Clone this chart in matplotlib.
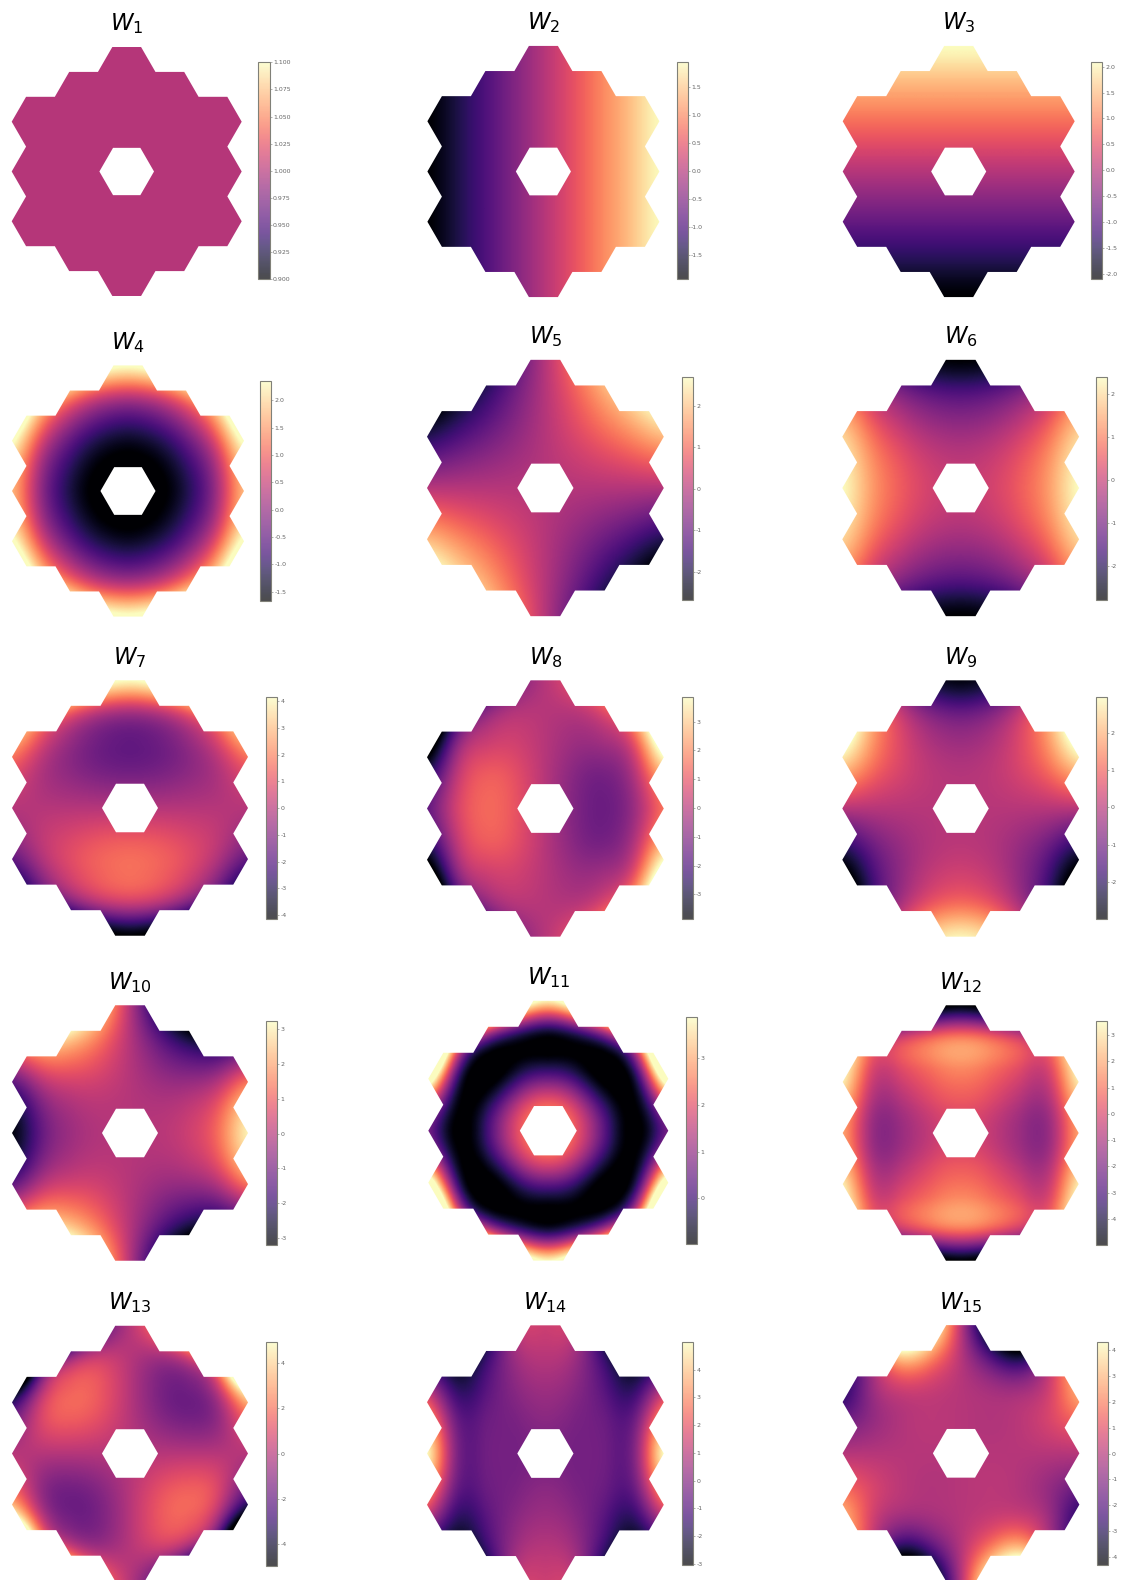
import numpy as np
import matplotlib
matplotlib.use('Agg')
import matplotlib.pyplot as plt
from matplotlib.patches import PathPatch
from matplotlib.path import Path

FIG_W, FIG_H = 1121, 1580

# grid samples, first row is the top of the aperture
X_SAMPLES = [-4, -3, -2, -1, 0, 1, 2, 3, 4]
Y_SAMPLES = [4.33, 3.25, 2.17, 1.08, 0, -1.08, -2.17, -3.25, -4.33]

W1 = [[1.0] * 9] * 9
W2 = [[-1.93, -1.45, -0.97, -0.48, 0, 0.48, 0.97, 1.45, 1.93]] * 9
W3 = [[2.1] * 9, [1.58] * 9, [1.05] * 9, [0.52] * 9, [0] * 9,
      [-0.52] * 9, [-1.05] * 9, [-1.58] * 9, [-2.1] * 9]
W4 = [[6.38, 4.65, 3.42, 2.68, 2.43, 2.68, 3.42, 4.65, 6.38],
      [4.36, 2.63, 1.40, 0.66, 0.41, 0.66, 1.40, 2.63, 4.36],
      [2.92, 1.19, -0.05, -0.75, -1.0, -0.75, -0.05, 1.19, 2.92],
      [2.04, 0.31, -0.85, -1.55, -1.8, -1.55, -0.85, 0.31, 2.04],
      [1.75, 0.02, -1.15, -1.85, -2.1, -1.85, -1.15, 0.02, 1.75],
      [2.04, 0.31, -0.85, -1.55, -1.8, -1.55, -0.85, 0.31, 2.04],
      [2.92, 1.19, -0.05, -0.75, -1.0, -0.75, -0.05, 1.19, 2.92],
      [4.36, 2.63, 1.40, 0.66, 0.41, 0.66, 1.40, 2.63, 4.36],
      [6.38, 4.65, 3.42, 2.68, 2.43, 2.68, 3.42, 4.65, 6.38]]
W5 = [[-4.76, -3.57, -2.38, -1.19, 0, 1.19, 2.38, 3.57, 4.76],
      [-3.57, -2.68, -1.79, -0.89, 0, 0.89, 1.79, 2.68, 3.57],
      [-2.39, -1.79, -1.19, -0.60, 0, 0.60, 1.19, 1.79, 2.39],
      [-1.19, -0.89, -0.59, -0.30, 0, 0.30, 0.59, 0.89, 1.19],
      [0, 0, 0, 0, 0, 0, 0, 0, 0],
      [1.19, 0.89, 0.59, 0.30, 0, -0.30, -0.59, -0.89, -1.19],
      [2.39, 1.79, 1.19, 0.60, 0, -0.60, -1.19, -1.79, -2.39],
      [3.57, 2.68, 1.79, 0.89, 0, -0.89, -1.79, -2.68, -3.57],
      [4.76, 3.57, 2.38, 1.19, 0, -1.19, -2.38, -3.57, -4.76]]
W6 = [[-0.41, -1.46, -2.21, -2.66, -2.81, -2.66, -2.21, -1.46, -0.41],
      [0.82, -0.23, -0.98, -1.43, -1.58, -1.43, -0.98, -0.23, 0.82],
      [1.69, 0.64, -0.11, -0.56, -0.71, -0.56, -0.11, 0.64, 1.69],
      [2.22, 1.17, 0.42, -0.03, -0.18, -0.03, 0.42, 1.17, 2.22],
      [2.4, 1.35, 0.6, 0.15, 0, 0.15, 0.6, 1.35, 2.4],
      [2.22, 1.17, 0.42, -0.03, -0.18, -0.03, 0.42, 1.17, 2.22],
      [1.69, 0.64, -0.11, -0.56, -0.71, -0.56, -0.11, 0.64, 1.69],
      [0.82, -0.23, -0.98, -1.43, -1.58, -1.43, -0.98, -0.23, 0.82],
      [-0.41, -1.46, -2.21, -2.66, -2.81, -2.66, -2.21, -1.46, -0.41]]
W7 = [[13.1, 9.2, 6.4, 4.8, 4.2, 4.8, 6.4, 9.2, 13.1],
      [6.4, 3.48, 1.4, 0.16, -0.26, 0.16, 1.4, 3.48, 6.4],
      [2.65, 0.69, -0.69, -1.45, -1.70, -1.45, -0.69, 0.69, 2.65],
      [0.83, -0.14, -0.75, -1.12, -1.25, -1.12, -0.75, -0.14, 0.83],
      [0, 0, 0, 0, 0, 0, 0, 0, 0],
      [-0.83, 0.14, 0.75, 1.12, 1.25, 1.12, 0.75, 0.14, -0.83],
      [-2.65, -0.69, 0.69, 1.40, 1.65, 1.40, 0.69, -0.69, -2.65],
      [-6.4, -3.48, -1.4, -0.16, 0.26, -0.16, -1.4, -3.48, -6.4],
      [-13.1, -9.2, -6.4, -4.8, -4.2, -4.8, -6.4, -9.2, -13.1]]
W8 = [[-12.1, -6.4, -3.0, -1.10, 0, 1.10, 3.0, 6.4, 12.1],
      [-7.9, -3.2, -0.86, -0.05, 0, 0.05, 0.86, 3.2, 7.9],
      [-4.9, -0.96, 0.40, 0.50, 0, -0.50, -0.40, 0.96, 4.9],
      [-2.6, 0.10, 1.20, 0.90, 0, -0.90, -1.20, -0.10, 2.6],
      [-1.6, 0.50, 1.40, 1.00, 0, -1.00, -1.40, -0.50, 1.6],
      [-2.6, 0.10, 1.20, 0.90, 0, -0.90, -1.20, -0.10, 2.6],
      [-4.9, -0.96, 0.40, 0.50, 0, -0.50, -0.40, 0.96, 4.9],
      [-7.9, -3.2, -0.86, -0.05, 0, 0.05, 0.86, 3.2, 7.9],
      [-12.1, -6.4, -3.0, -1.10, 0, 1.10, 3.0, 6.4, 12.1]]
W9 = [[4.43, 1.25, -1.02, -2.39, -2.84, -2.39, -1.02, 1.25, 4.43],
      [4.26, 1.87, 0.16, -0.86, -1.2, -0.86, 0.16, 1.87, 4.26],
      [3.29, 1.69, 0.55, -0.13, -0.36, -0.13, 0.55, 1.69, 3.29],
      [1.77, 0.98, 0.41, 0.07, -0.04, 0.07, 0.41, 0.98, 1.77],
      [0, 0, 0, 0, 0, 0, 0, 0, 0],
      [-1.77, -0.98, -0.41, -0.07, 0.04, -0.07, -0.41, -0.98, -1.77],
      [-3.29, -1.69, -0.55, 0.13, 0.36, 0.13, -0.55, -1.69, -3.29],
      [-4.26, -1.87, -0.16, 0.86, 1.2, 0.86, -0.16, -1.87, -4.26],
      [-4.43, -1.25, 1.02, 2.39, 2.84, 2.39, 1.02, -1.25, -4.43]]
W10 = [[7.7, 6.8, 5.0, 2.65, 0, -2.65, -5.0, -6.8, -7.7],
       [3.0, 3.26, 2.66, 1.47, 0, -1.47, -2.66, -3.26, -3.0],
       [-0.36, 0.74, 0.97, 0.63, 0, -0.63, -0.97, -0.74, 0.36],
       [-2.4, -0.79, -0.05, 0.12, 0, -0.12, 0.05, 0.79, 2.4],
       [-3.07, -1.3, -0.38, -0.05, 0, 0.05, 0.38, 1.3, 3.07],
       [-2.4, -0.79, -0.05, 0.12, 0, -0.12, 0.05, 0.79, 2.4],
       [-0.36, 0.74, 0.97, 0.63, 0, -0.63, -0.97, -0.74, 0.36],
       [3.0, 3.26, 2.66, 1.47, 0, -1.47, -2.66, -3.26, -3.0],
       [7.7, 6.8, 5.0, 2.65, 0, -2.65, -5.0, -6.8, -7.7]]
W11 = [[12, 12, 8, 5.16, 3.85, 5.16, 8, 12, 12],
       [10, 4.89, 1.5, 0.0, -0.6, 0.0, 1.5, 4.89, 10],
       [6.5, 0.8, -1.3, -0.75, -0.4, -0.75, -1.3, 0.8, 6.5],
       [2.6, -0.7, -0.6, 1.1, 1.9, 1.1, -0.6, -0.7, 2.6],
       [0.7, -1.1, 0.1, 2.0, 2.7, 2.0, 0.1, -1.1, 0.7],
       [2.6, -0.7, -0.6, 1.1, 1.9, 1.1, -0.6, -0.7, 2.6],
       [6.5, 0.8, -1.3, -0.75, -0.4, -0.75, -1.3, 0.8, 6.5],
       [10, 4.89, 1.5, 0.0, -0.6, 0.0, 1.5, 4.89, 10],
       [12, 12, 8, 5.16, 3.85, 5.16, 8, 12, 12]]
W12 = [[-2.65, -6.31, -6.21, -5.6, -5.0, -5.6, -6.21, -6.31, -2.65],
       [3.23, -0.43, -0.33, 0.6, 1.1, 0.6, -0.33, -0.43, 3.23],
       [3.71, 0.06, 0.15, 0.95, 1.4, 0.95, 0.15, 0.06, 3.71],
       [2.51, -0.8, -0.8, 0.09, 0.5, 0.09, -0.8, -0.8, 2.51],
       [1.86, -1.3, -1.3, -0.45, 0, -0.45, -1.3, -1.3, 1.86],
       [2.51, -0.8, -0.8, 0.09, 0.5, 0.09, -0.8, -0.8, 2.51],
       [3.71, 0.06, 0.15, 0.95, 1.4, 0.95, 0.15, 0.06, 3.71],
       [3.23, -0.43, -0.33, 0.6, 1.1, 0.6, -0.33, -0.43, 3.23],
       [-2.65, -6.31, -6.21, -5.6, -5.0, -5.6, -6.21, -6.31, -2.65]]
W13 = [[-20, -15, -7.4, -2.56, 0, 2.56, 7.4, 15, 20],
       [-15.4, -5.6, -0.9, 0.4, 0, -0.4, 0.9, 5.6, 15.4],
       [-5.87, -0.42, 1.61, 1.38, 0, -1.38, -1.61, 0.42, 5.87],
       [-1.59, 0.79, 1.47, 1.02, 0, -1.02, -1.47, -0.79, 1.59],
       [0, 0, 0, 0, 0, 0, 0, 0, 0],
       [1.59, -0.79, -1.47, -1.02, 0, 1.02, 1.47, 0.79, -1.59],
       [5.87, 0.42, -1.61, -1.38, 0, 1.38, 1.61, -0.42, -5.87],
       [15.4, 5.6, 0.9, -0.4, 0, 0.4, -0.9, -5.6, -15.4],
       [20, 15, 7.4, 2.56, 0, -2.56, -7.4, -15, -20]]
W14 = [[-4, -6, -3, 1.0, 1.4, 1.0, -3, -6, -4],
       [-2, -3.4, -1.6, 0.5, 1.0, 0.5, -1.6, -3.4, -2],
       [1.0, -1.6, -0.9, 0.1, 0.5, 0.1, -0.9, -1.6, 1.0],
       [3.6, -0.4, -0.5, -0.2, 0.1, -0.2, -0.5, -0.4, 3.6],
       [5.0, 0.0, -0.4, -0.3, -0.2, -0.3, -0.4, 0.0, 5.0],
       [3.6, -0.4, -0.5, -0.2, 0.1, -0.2, -0.5, -0.4, 3.6],
       [1.0, -1.6, -0.9, 0.1, 0.5, 0.1, -0.9, -1.6, 1.0],
       [-2, -3.4, -1.6, 0.5, 1.0, 0.5, -1.6, -3.4, -2],
       [-4, -6, -3, 1.0, 1.4, 1.0, -3, -6, -4]]
W15 = [[0, 6, 8, 5, 0, -5, -8, -6, 0],
       [-2.5, 0.9, 3.4, 2.2, 0, -2.2, -3.4, -0.9, 2.5],
       [-2.9, -0.6, 0.5, 0.4, 0, -0.4, -0.5, 0.6, 2.9],
       [-1.5, -0.7, -0.1, 0.1, 0, -0.1, 0.1, 0.7, 1.5],
       [0, 0, 0, 0, 0, 0, 0, 0, 0],
       [1.5, 0.7, 0.1, -0.1, 0, 0.1, -0.1, -0.7, -1.5],
       [2.9, 0.6, -0.5, -0.4, 0, 0.4, 0.5, -0.6, -2.9],
       [2.5, -0.9, -3.4, -2.2, 0, 2.2, 3.4, 0.9, -2.5],
       [0, -6, -8, -5, 0, 5, 8, 6, 0]]

MODES = [W1, W2, W3, W4, W5, W6, W7, W8, W9, W10, W11, W12, W13, W14, W15]

VMIN = [0.9, -1.93, -2.1, -1.67, -2.68, -2.8, -4.16, -3.87, -3.0, -3.2, -0.98, -5.0, -4.93, -3.04, -4.3]
VMAX = [1.1, 1.95, 2.1, 2.35, 2.7, 2.4, 4.17, 3.87, 2.97, 3.23, 3.88, 3.54, 4.93, 5.0, 4.3]
TICKS = [
    [0.9, 0.925, 0.95, 0.975, 1.0, 1.025, 1.05, 1.075, 1.1],
    [-1.5, -1.0, -0.5, 0.0, 0.5, 1.0, 1.5],
    [-2.0, -1.5, -1.0, -0.5, 0.0, 0.5, 1.0, 1.5, 2.0],
    [-1.5, -1.0, -0.5, 0.0, 0.5, 1.0, 1.5, 2.0],
    [-2, -1, 0, 1, 2],
    [-2, -1, 0, 1, 2],
    [-4, -3, -2, -1, 0, 1, 2, 3, 4],
    [-3, -2, -1, 0, 1, 2, 3],
    [-2, -1, 0, 1, 2],
    [-3, -2, -1, 0, 1, 2, 3],
    [0, 1, 2, 3],
    [-4, -3, -2, -1, 0, 1, 2, 3],
    [-4, -2, 0, 2, 4],
    [-3, -2, -1, 0, 1, 2, 3, 4],
    [-4, -3, -2, -1, 0, 1, 2, 3, 4],
]
TICK_FORMAT = ['%.3f', '%.1f', '%.1f', '%.1f'] + ['%d'] * 11

# pixel layout: aperture centre x, y and hexagon side
CENTRES = [(126.7, 171.5, 28.75), (543.4, 171.5, 29), (958.7, 171.5, 29),
           (128, 491, 29), (545.4, 488, 29.6), (960.7, 488, 29.6),
           (130, 808, 29.5), (545.4, 808.5, 29.6), (960.7, 808.5, 29.6),
           (130, 1133, 29.5), (548.3, 1130.7, 30), (960.7, 1133, 29.5),
           (130, 1453.5, 29.5), (545.4, 1453.5, 29.6), (961, 1453.3, 29.6)]
# pixel layout: colorbar left, top, bottom
BARS = [(258.3, 62.3, 279.3), (676.5, 61.5, 279), (1091, 61.5, 279),
        (260, 381, 601), (681.5, 377, 600), (1096, 377, 600),
        (265.7, 696.7, 919.3), (681.5, 696.7, 919.3), (1096, 696.7, 919.3),
        (265.7, 1021, 1245), (686, 1017.3, 1244), (1096, 1021, 1245),
        (265.7, 1342, 1565.5), (681.7, 1342, 1565), (1096.7, 1342, 1565)]
HOLE_SIZE = 0.95


def aperture_path():
    """Outline of the 18 segment mirror with the central hole, in units of the segment side."""
    h = np.sqrt(3) / 2
    right = [(0.5, 5), (1, 4), (2, 4), (2.5, 3), (3.5, 3), (4, 2), (3.5, 1), (4, 0),
             (3.5, -1), (4, -2), (3.5, -3), (2.5, -3), (2, -4), (1, -4), (0.5, -5)]
    outer = [(x, y * h) for x, y in right] + [(-x, y * h) for x, y in right[::-1]]
    hole = [(1, 0), (0.5, h), (-0.5, h), (-1, 0), (-0.5, -h), (0.5, -h)]
    hole = [(x * HOLE_SIZE, y * HOLE_SIZE) for x, y in hole]
    verts = outer + [outer[0]] + hole + [hole[0]]
    codes = ([Path.MOVETO] + [Path.LINETO] * (len(outer) - 1) + [Path.CLOSEPOLY]
             + [Path.MOVETO] + [Path.LINETO] * (len(hole) - 1) + [Path.CLOSEPOLY])
    return Path(verts, codes)


def px_axes(fig, left, top, right, bottom):
    return fig.add_axes([left / FIG_W, 1 - bottom / FIG_H,
                         (right - left) / FIG_W, (bottom - top) / FIG_H])


fig = plt.figure(figsize=(FIG_W / 100, FIG_H / 100), dpi=100)
path = aperture_path()
half_x, half_y = 4.2, 4.5
dx = X_SAMPLES[1] - X_SAMPLES[0]
dy = Y_SAMPLES[0] - Y_SAMPLES[1]
extent = [X_SAMPLES[0] - dx / 2, X_SAMPLES[-1] + dx / 2,
          Y_SAMPLES[-1] - dy / 2, Y_SAMPLES[0] + dy / 2]

for i, mode in enumerate(MODES):
    cx, cy, s = CENTRES[i]
    ax = px_axes(fig, cx - half_x * s, cy - half_y * s, cx + half_x * s, cy + half_y * s)
    im = ax.imshow(np.array(mode, dtype=float), cmap='magma', vmin=VMIN[i], vmax=VMAX[i],
                   extent=extent, origin='upper', aspect='auto', interpolation='spline36')
    patch = PathPatch(path, transform=ax.transData, facecolor='none', edgecolor='none')
    ax.add_patch(patch)
    im.set_clip_path(patch)
    ax.set_xlim(-half_x, half_x)
    ax.set_ylim(-half_y, half_y)
    ax.axis('off')
    fig.text(cx / FIG_W, 1 - (cy - 4.33 * s - 16.5) / FIG_H, f'$W_{{{i + 1}}}$',
             fontsize=16.5, ha='center', va='baseline')

    left, top, bottom = BARS[i]
    cax = px_axes(fig, left, top, left + 11.2, bottom)
    cb = fig.colorbar(im, cax=cax, ticks=TICKS[i], format=TICK_FORMAT[i])
    cb.solids.set_alpha(0.7)
    cb.outline.set_edgecolor('#808078')
    cb.outline.set_linewidth(0.8)
    cax.tick_params(labelsize=4.5, length=1.5, width=0.4, pad=1.0, color='#777777', labelcolor='#666666')

fig.savefig('out.png', dpi=100)
